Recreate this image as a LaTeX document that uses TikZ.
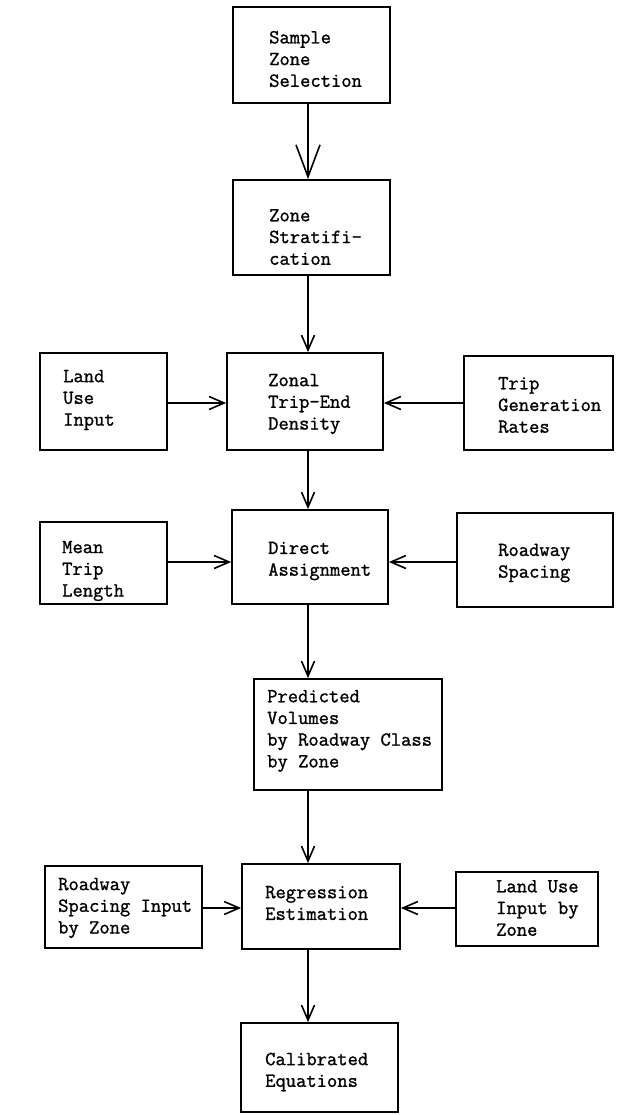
\documentclass[tikz,border=0pt]{standalone}
\usepackage{fontspec}
\setmonofont{Latin Modern Mono}[FakeBold=1.2]
\usetikzlibrary{arrows.meta}
\begin{document}
\begin{tikzpicture}[x=1pt,y=-1pt,
  box/.style={draw, line width=1.8pt, inner sep=0pt},
  txt/.style={anchor=west, align=left, inner sep=0pt, font=\fontsize{20}{21.7}\selectfont\ttfamily},
  arr/.style={line width=1.6pt, -{Straight Barb[length=15pt,width=13pt,line width=1.6pt]}},
  bigarr/.style={line width=1.6pt, -{Straight Barb[length=32pt,width=24pt,line width=1.6pt]}}
]
\useasboundingbox (0,0) rectangle (618,1115);
\fill[white] (0,0) rectangle (618,1115);
\coordinate (col) at (308,0);
\coordinate (r3) at (0,403);
\coordinate (r4) at (0,562);
\coordinate (r6) at (0,908);

% boxes
\node[box, minimum width=157pt, minimum height=96pt] (b1) at (311.5,55) {};
\node[box, minimum width=157pt, minimum height=95pt] (b2) at (311.5,227.5) {};
\node[box, minimum width=127pt, minimum height=97pt] (lu) at (103.5,401.5) {};
\node[box, minimum width=156pt, minimum height=97pt] (zon) at (305,401.5) {};
\node[box, minimum width=149pt, minimum height=94pt] (tg) at (538.5,403) {};
\node[box, minimum width=127pt, minimum height=82pt] (mt) at (103.5,563) {};
\node[box, minimum width=156pt, minimum height=94pt] (da) at (310,557) {};
\node[box, minimum width=156pt, minimum height=94pt] (rs) at (535,560) {};
\node[box, minimum width=188pt, minimum height=111pt] (pv) at (348,734.5) {};
\node[box, minimum width=157pt, minimum height=82pt] (ri) at (123.5,907) {};
\node[box, minimum width=158pt, minimum height=85pt] (re) at (321,906.5) {};
\node[box, minimum width=142pt, minimum height=74pt] (lz) at (527,909) {};
\node[box, minimum width=157pt, minimum height=89pt] (ce) at (319.5,1067.5) {};

% texts
\node[txt] (t1) at (269,59) {Sample\\Zone\\Selection};
\node[txt] (t2) at (269,237) {Zone\\Stratif{}i-\\cation};
\node[txt] (t3) at (63,400) {Land\\Use\\Input};
\node[txt] (t4) at (268,404) {Zonal\\Trip-End\\Density};
\node[txt] (t5) at (498,405) {Trip\\Generation\\Rates};
\node[txt] (t6) at (62,571) {Mean\\Trip\\Length};
\node[txt] (t7) at (268,561) {Direct\\Assignment};
\node[txt] (t8) at (498,563) {Roadway\\Spacing};
\node[txt] (t9) at (267,731) {Predicted\\Volumes\\by Roadway Class\\by Zone};
\node[txt] (t10) at (58,908) {Roadway\\Spacing Input\\by Zone};
\node[txt] (t11) at (265,903) {Regression\\Estimation};
\node[txt] (t12) at (496,908) {Land Use\\Input by\\Zone};
\node[txt] (t13) at (265,1072) {Calibrated\\Equations};

% vertical connectors
\draw[bigarr] (b1.south -| col) -- (b2.north -| col);
\draw[arr] (b2.south -| col) -- (zon.north -| col);
\draw[arr] (zon.south -| col) -- (da.north -| col);
\draw[arr] (da.south -| col) -- (pv.north -| col);
\draw[arr] (pv.south -| col) -- (re.north -| col);
\draw[arr] (re.south -| col) -- (ce.north -| col);

% horizontal connectors
\draw[arr] (lu.east |- r3) -- (zon.west |- r3);
\draw[arr] (tg.west |- r3) -- (zon.east |- r3);
\draw[arr] (mt.east |- r4) -- (da.west |- r4);
\draw[arr] (rs.west |- r4) -- (da.east |- r4);
\draw[arr] (ri.east |- r6) -- (re.west |- r6);
\draw[arr] (lz.west |- r6) -- (re.east |- r6);
\end{tikzpicture}
\end{document}
